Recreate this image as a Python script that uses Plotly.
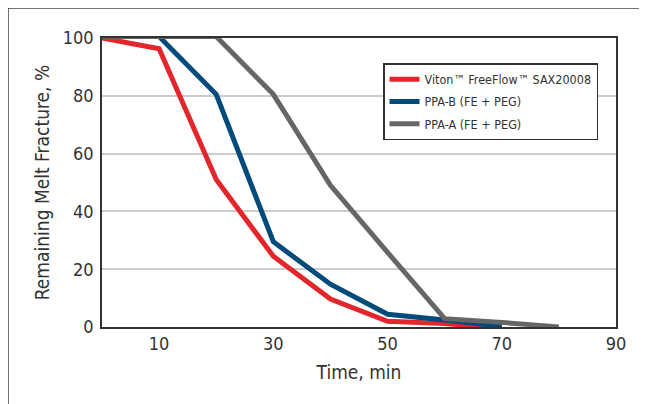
import plotly.graph_objects as go

time_min = [0, 10, 20, 30, 40, 50, 60, 70, 80]
viton = [100, 96.3, 51, 24.5, 9.7, 2, 1.2, -0.4]
ppa_b = [100.5, 100.5, 80.5, 29.5, 14.8, 4.4, 2.4, 0.2]
ppa_a = [100.5, 100.5, 100.5, 80.5, 49, 25.8, 2.9, 1.6, 0]
names = ["Viton\u2122 FreeFlow\u2122 SAX20008", "PPA-B (FE + PEG)", "PPA-A (FE + PEG)"]
colors = ["#e3262b", "#004b7a", "#666666"]
x_ticks = [10, 30, 50, 70, 90]
y_ticks = [0, 20, 40, 60, 80, 100]

FONT = "DejaVu Sans Condensed, Roboto, sans-serif"

fig = go.Figure()
for i, (n, ys, c) in enumerate(zip(names, [viton, ppa_b, ppa_a], colors)):
    fig.add_trace(go.Scatter(x=time_min[:len(ys)], y=ys, mode="lines", name=n,
                             legendgroup="g%d" % i,
                             line=dict(color=c, width=5), cliponaxis=False))

# page is offset 8px by the browser body margin
W, H = 647, 404
L, R, T, B = 94, 39, 30, 85
pw, ph = W - L - R, H - T - B

def px(xp):
    return (xp - 8 - L) / pw

def py(yp):
    return (H - B - (yp - 8)) / ph

fig.update_layout(
    width=W, height=H,
    margin=dict(l=L, r=R, t=T, b=B),
    paper_bgcolor="white", plot_bgcolor="white",
    font=dict(family=FONT, color="#333333", size=18),
    xaxis=dict(range=[0, 90], tickvals=x_ticks, showgrid=False, zeroline=False,
               showline=True, linecolor="#333333", linewidth=1.5, mirror=True,
               ticks="", tickfont=dict(size=18, color="#333333"),
               title=dict(text="Time, min", font=dict(size=19, color="#333333"), standoff=12)),
    yaxis=dict(range=[0, 100], tickvals=y_ticks, showgrid=True, gridcolor="#cccccc",
               gridwidth=1.5, zeroline=False,
               showline=True, linecolor="#333333", linewidth=1.5, mirror=True,
               ticks="", ticklabelstandoff=3, tickfont=dict(size=18, color="#333333"),
               title=dict(text="Remaining Melt Fracture, %", font=dict(size=19, color="#333333"), standoff=8)),
    legend=dict(x=px(383), y=py(63), xanchor="left", yanchor="top",
                bgcolor="white", bordercolor="#333333", borderwidth=1.5,
                font=dict(size=12.5, color="#333333"), itemwidth=30,
                tracegroupgap=3),
    showlegend=True,
)

fig.add_shape(type="line", xref="paper", yref="paper",
              x0=-L / pw, x1=-L / pw, y0=(H - B) / ph, y1=-B / ph,
              line=dict(color="#444444", width=1.5))
fig.add_shape(type="line", xref="paper", yref="paper",
              x0=-L / pw, x1=(W - L) / pw, y0=(H - B) / ph, y1=(H - B) / ph,
              line=dict(color="#444444", width=1.5))

fig.write_html("out.html")
